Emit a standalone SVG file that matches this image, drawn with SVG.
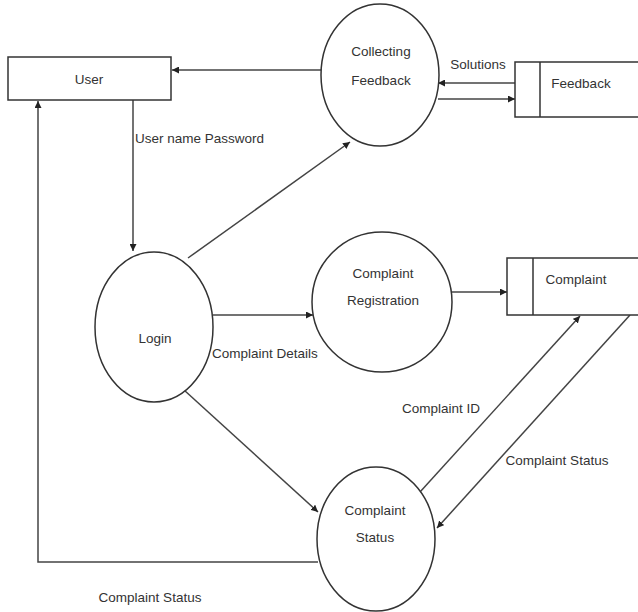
<svg xmlns="http://www.w3.org/2000/svg" width="638" height="612" viewBox="0 0 638 612">
<defs>
<marker id="ah" viewBox="0 0 10 10" refX="10" refY="5" markerWidth="7" markerHeight="7" orient="auto" markerUnits="userSpaceOnUse">
<path d="M0,0 L10,5 L0,10 z" fill="#222"/>
</marker>
<style>
.n{fill:#fff;stroke:#333;stroke-width:1.5}
.c{fill:none;stroke:#444;stroke-width:1.5}
.t{font-family:"Liberation Sans",Arial,sans-serif;font-size:13.5px;fill:#333;text-anchor:middle}
.l{font-family:"Liberation Sans",Arial,sans-serif;font-size:13.5px;fill:#333}
</style>
</defs>
<rect width="638" height="612" fill="#fff"/>
<g id="connectors">
<line class="c" x1="322" y1="70" x2="172" y2="70" marker-end="url(#ah)"/>
<line class="c" x1="515" y1="83" x2="438" y2="83" marker-end="url(#ah)"/>
<line class="c" x1="438" y1="99" x2="515" y2="99" marker-end="url(#ah)"/>
<line class="c" x1="133" y1="100" x2="133" y2="251" marker-end="url(#ah)" stroke="#777"/>
<line class="c" x1="188" y1="258" x2="350" y2="142" marker-end="url(#ah)"/>
<line class="c" x1="213" y1="315" x2="313" y2="315" marker-end="url(#ah)"/>
<line class="c" x1="452" y1="292" x2="507" y2="292" marker-end="url(#ah)"/>
<line class="c" x1="184" y1="390" x2="318" y2="512" marker-end="url(#ah)"/>
<line class="c" x1="420" y1="492" x2="580" y2="316" marker-end="url(#ah)"/>
<line class="c" x1="630" y1="315" x2="437" y2="528" marker-end="url(#ah)"/>
<polyline class="c" points="318,562 38,562 38,101" marker-end="url(#ah)"/>
</g>
<g id="user">
<rect class="n" x="8" y="57" width="163" height="43"/>
<text class="t" x="89" y="84">User</text>
</g>
<g id="collecting-feedback">
<ellipse class="n" cx="380" cy="75" rx="59" ry="71"/>
<text class="t" x="381" y="56">Collecting</text>
<text class="t" x="381" y="85">Feedback</text>
</g>
<g id="feedback-store">
<rect class="n" x="515" y="62" width="130" height="55"/>
<line class="n" x1="540" y1="62" x2="540" y2="117"/>
<text class="t" x="581" y="88">Feedback</text>
</g>
<g id="login">
<ellipse class="n" cx="154" cy="327" rx="59" ry="75"/>
<text class="t" x="155" y="343">Login</text>
</g>
<g id="complaint-registration">
<ellipse class="n" cx="382" cy="302" rx="70" ry="70"/>
<text class="t" x="383" y="278">Complaint</text>
<text class="t" x="383" y="305">Registration</text>
</g>
<g id="complaint-store">
<rect class="n" x="507" y="258" width="140" height="57"/>
<line class="n" x1="533" y1="258" x2="533" y2="315"/>
<text class="t" x="576" y="284">Complaint</text>
</g>
<g id="complaint-status">
<ellipse class="n" cx="376" cy="539" rx="59" ry="72"/>
<text class="t" x="375" y="515">Complaint</text>
<text class="t" x="375" y="542">Status</text>
</g>
<g id="labels">
<text class="l" x="135" y="143">User name Password</text>
<text class="t" x="478" y="69">Solutions</text>
<text class="l" x="212" y="358">Complaint Details</text>
<text class="t" x="441" y="413">Complaint ID</text>
<text class="t" x="557" y="465">Complaint Status</text>
<text class="t" x="150" y="602">Complaint Status</text>
</g>
</svg>
